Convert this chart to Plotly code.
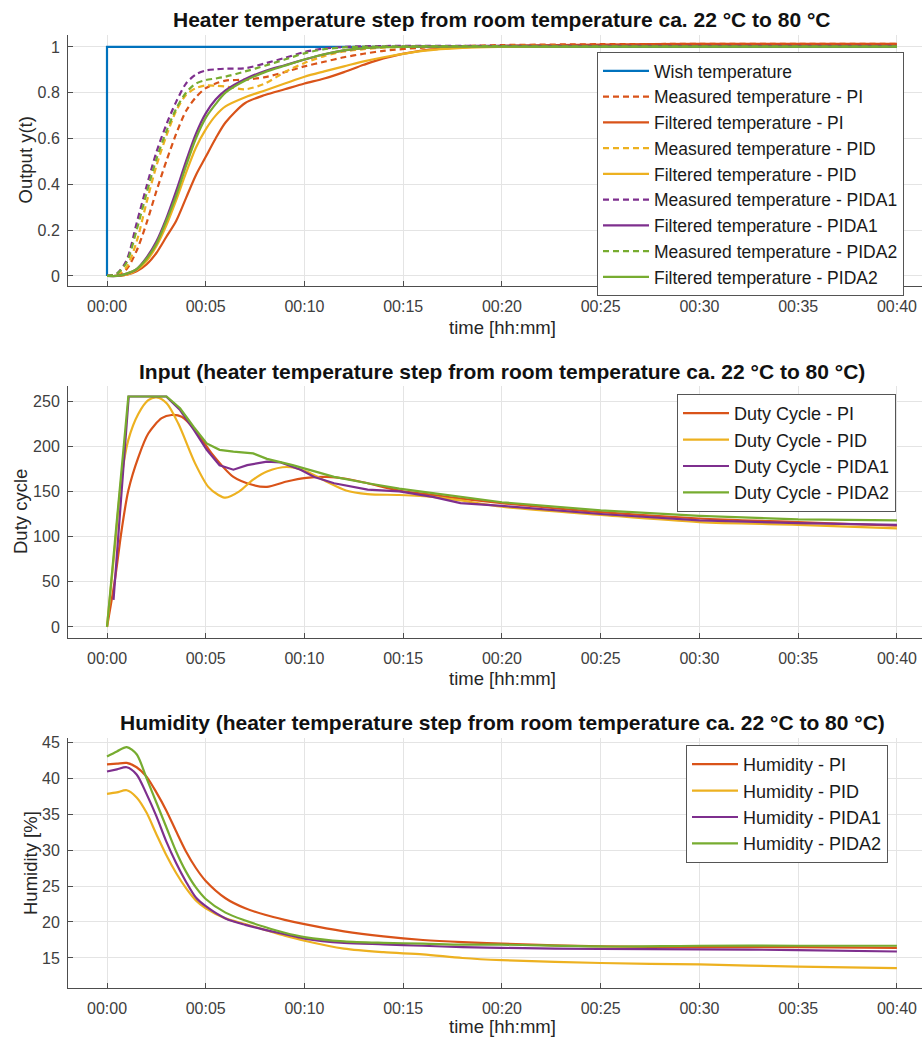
import plotly.graph_objects as go

# ---------------- Data (time in minutes) ----------------
TICK_MIN = [0, 5, 10, 15, 20, 25, 30, 35, 40]
TICK_TXT = ["00:00", "00:05", "00:10", "00:15", "00:20", "00:25", "00:30", "00:35", "00:40"]

# Top: normalised output y(t)
T_TOP = [0, 0.5, 1, 1.5, 2, 2.5, 3, 3.5, 4, 4.5, 5, 5.5, 6, 7, 8, 9, 10, 11, 12, 13, 14, 16, 18, 20, 25, 30, 35, 40]
WISH_T = [0, 0, 40]
WISH_Y = [0, 1, 1]
MEAS_PI = [0, 0.003, 0.03, 0.11, 0.23, 0.37, 0.5, 0.62, 0.72, 0.78, 0.82, 0.84, 0.853, 0.857, 0.868, 0.89,
           0.915, 0.935, 0.955, 0.97, 0.983, 0.997, 1.004, 1.008, 1.012, 1.013, 1.013, 1.013]
FILT_PI = [0, 0, 0.005, 0.02, 0.05, 0.1, 0.17, 0.24, 0.34, 0.44, 0.52, 0.6, 0.67, 0.755, 0.79, 0.815,
           0.84, 0.862, 0.89, 0.922, 0.95, 0.985, 0.998, 1.005, 1.01, 1.013, 1.013, 1.013]
MEAS_PID = [0, 0.005, 0.04, 0.15, 0.32, 0.48, 0.61, 0.72, 0.79, 0.82, 0.832, 0.83, 0.827, 0.815, 0.84, 0.89,
            0.93, 0.96, 0.98, 0.99, 0.997, 1.002, 1.003, 1.004, 1.004, 1.004, 1.004, 1.004]
FILT_PID = [0, 0, 0.005, 0.025, 0.065, 0.13, 0.22, 0.33, 0.45, 0.56, 0.64, 0.70, 0.74, 0.78, 0.81, 0.84,
            0.87, 0.893, 0.915, 0.937, 0.955, 0.983, 0.996, 1.0, 1.003, 1.003, 1.003, 1.003]
MEAS_PIDA1 = [0, 0.01, 0.07, 0.23, 0.39, 0.54, 0.66, 0.76, 0.84, 0.88, 0.897, 0.902, 0.905, 0.907, 0.928, 0.952,
              0.978, 0.993, 1.0, 1.003, 1.004, 1.005, 1.005, 1.005, 1.005, 1.005, 1.005, 1.005]
FILT_PIDA1 = [0, 0, 0.01, 0.03, 0.08, 0.15, 0.25, 0.37, 0.5, 0.62, 0.71, 0.77, 0.81, 0.86, 0.895, 0.92,
              0.945, 0.968, 0.985, 0.995, 1.0, 1.002, 1.003, 1.003, 1.003, 1.003, 1.003, 1.003]
MEAS_PIDA2 = [0, 0.01, 0.06, 0.2, 0.36, 0.51, 0.63, 0.73, 0.8, 0.84, 0.855, 0.862, 0.87, 0.893, 0.918, 0.945,
              0.972, 0.99, 0.998, 1.001, 1.002, 1.003, 1.003, 1.003, 1.002, 1.002, 1.002, 1.002]
FILT_PIDA2 = [0, 0, 0.01, 0.03, 0.075, 0.14, 0.24, 0.35, 0.48, 0.6, 0.69, 0.75, 0.80, 0.853, 0.89, 0.918,
              0.945, 0.968, 0.985, 0.995, 0.999, 1.001, 1.001, 1.001, 1.001, 1.001, 1.001, 1.001]

# Middle: duty cycle
T_DC_PI = [0, 0.4, 0.74, 1.08, 1.59, 2.09, 2.77, 3.27, 3.78, 4.46, 5.3, 6.4, 7.4, 8.1, 9.1, 10.1, 11.1, 12.1,
           13.2, 14.8, 16.5, 17.9, 20, 25, 30, 35, 40]
DC_PI = [0, 52, 107, 151, 188, 214, 231, 234.5, 232.6, 218, 192, 166, 157, 155, 161, 165, 166, 164,
         159, 151, 146, 142, 137, 127, 120, 116, 112]
T_DC_PID = [0, 0.4, 0.74, 1.08, 1.59, 2.09, 2.51, 3.02, 3.61, 4.46, 5.13, 5.64, 6.0, 6.7, 7.4, 8.1, 9.1, 10.1,
            11.1, 12.1, 13.2, 14.8, 16.5, 17.9, 20, 25, 30, 35, 40]
DC_PID = [0, 89, 166, 207, 236, 251, 254, 247.5, 225, 181, 155, 146, 143, 150, 163, 172, 177, 172,
          161, 151, 147, 146, 144, 140, 133, 124, 116, 113, 109]
T_DC_PIDA1 = [0.33, 1.1, 3.0, 3.7, 4.4, 5.05, 5.7, 6.4, 7.1, 8.1, 8.8, 9.8, 10.5, 11.5, 13.2, 14.8, 16.5, 17.9,
              20, 25, 30, 35, 40]
DC_PIDA1 = [30, 255, 255, 240, 218, 196, 179, 174, 179, 183, 182, 174, 166, 159, 152, 150, 144, 137,
            134, 125, 118, 115, 113]
T_DC_PIDA2 = [0, 1.08, 3.02, 3.7, 4.4, 5.05, 5.7, 6.4, 7.4, 8.1, 9.4, 10.5, 11.5, 13.2, 14.8, 16.5, 17.9,
              20, 25, 30, 35, 40]
DC_PIDA2 = [0, 255, 255, 242, 221, 203, 196, 194, 192, 186, 179, 172, 166, 159, 153, 148, 144,
            138, 129, 123, 119, 118]

# Bottom: humidity [%]
T_HUM = [0, 0.5, 1, 1.5, 2, 2.5, 3, 3.5, 4, 4.5, 5, 6, 7, 8, 9, 10, 12, 14, 16, 18, 20, 25, 30, 35, 40]
HUM_PI = [41.9, 42.0, 42.1, 41.5, 40.2, 38.0, 35.5, 32.6, 29.8, 27.5, 25.7, 23.3, 21.9, 21.0, 20.3, 19.7,
          18.7, 18.0, 17.5, 17.2, 17.0, 16.6, 16.5, 16.5, 16.4]
HUM_PID = [37.8, 38.0, 38.3, 37.3, 35.2, 32.2, 29.3, 26.8, 24.7, 23.0, 21.9, 20.5, 19.7, 18.9, 18.1, 17.4,
           16.3, 15.8, 15.5, 15.0, 14.7, 14.3, 14.1, 13.8, 13.6]
HUM_PIDA1 = [40.9, 41.2, 41.5, 40.5, 37.8, 34.7, 31.2, 28.2, 25.6, 23.4, 22.2, 20.5, 19.6, 18.9, 18.3, 17.7,
             17.1, 16.9, 16.7, 16.5, 16.4, 16.25, 16.2, 16.1, 15.9]
HUM_PIDA2 = [43.0, 43.7, 44.3, 43.3, 40.0, 36.6, 33.2, 29.8, 27.0, 24.8, 23.2, 21.3, 20.2, 19.3, 18.5, 17.9,
             17.3, 17.1, 17.0, 16.85, 16.85, 16.6, 16.7, 16.7, 16.7]

for arr in [MEAS_PI, FILT_PI, MEAS_PID, FILT_PID, MEAS_PIDA1, FILT_PIDA1, MEAS_PIDA2, FILT_PIDA2]:
    assert len(arr) == len(T_TOP)
assert len(DC_PI) == len(T_DC_PI) and len(DC_PID) == len(T_DC_PID)
assert len(DC_PIDA1) == len(T_DC_PIDA1) and len(DC_PIDA2) == len(T_DC_PIDA2)
for arr in [HUM_PI, HUM_PID, HUM_PIDA1, HUM_PIDA2]:
    assert len(arr) == len(T_HUM)

# ---------------- Style ----------------
BLUE, RED, YEL, PUR, GRN = "#0072BD", "#D95319", "#EDB120", "#7E2F8E", "#77AC30"
FONT = "Liberation Sans, Arial, Helvetica, sans-serif"
W, H = 922, 1038
LW = 2.2
DASH = "6px,4px"


def px_x(p):
    return p / W


def px_y(p):
    return 1 - p / H


fig = go.Figure()

# Top plot
fig.add_trace(go.Scatter(x=WISH_T, y=WISH_Y, mode="lines", name="Wish temperature",
                         line=dict(color=BLUE, width=LW), xaxis="x", yaxis="y", legend="legend"))
top_series = [
    ("Measured temperature - PI", MEAS_PI, RED, DASH),
    ("Filtered temperature - PI", FILT_PI, RED, "solid"),
    ("Measured temperature - PID", MEAS_PID, YEL, DASH),
    ("Filtered temperature - PID", FILT_PID, YEL, "solid"),
    ("Measured temperature - PIDA1", MEAS_PIDA1, PUR, DASH),
    ("Filtered temperature - PIDA1", FILT_PIDA1, PUR, "solid"),
    ("Measured temperature - PIDA2", MEAS_PIDA2, GRN, DASH),
    ("Filtered temperature - PIDA2", FILT_PIDA2, GRN, "solid"),
]
for name, vals, col, dash in top_series:
    fig.add_trace(go.Scatter(x=T_TOP, y=vals, mode="lines", name=name,
                             line=dict(color=col, width=LW, dash=dash, shape="spline", smoothing=0.8),
                             xaxis="x", yaxis="y", legend="legend"))

# Middle plot
mid_series = [
    ("Duty Cycle - PI", T_DC_PI, DC_PI, RED, "spline"),
    ("Duty Cycle - PID", T_DC_PID, DC_PID, YEL, "spline"),
    ("Duty Cycle - PIDA1", T_DC_PIDA1, DC_PIDA1, PUR, "linear"),
    ("Duty Cycle - PIDA2", T_DC_PIDA2, DC_PIDA2, GRN, "linear"),
]
for name, tt, vals, col, shape in mid_series:
    ln = dict(color=col, width=LW, shape=shape)
    if shape == "spline":
        ln["smoothing"] = 0.8
    fig.add_trace(go.Scatter(x=tt, y=vals, mode="lines", name=name, line=ln,
                             xaxis="x2", yaxis="y2", legend="legend2"))

# Bottom plot
bot_series = [
    ("Humidity - PI", HUM_PI, RED),
    ("Humidity - PID", HUM_PID, YEL),
    ("Humidity - PIDA1", HUM_PIDA1, PUR),
    ("Humidity - PIDA2", HUM_PIDA2, GRN),
]
for name, vals, col in bot_series:
    fig.add_trace(go.Scatter(x=T_HUM, y=vals, mode="lines", name=name,
                             line=dict(color=col, width=LW, shape="spline", smoothing=0.8),
                             xaxis="x3", yaxis="y3", legend="legend3"))

# ---------------- Axes ----------------
X_DOM = [px_x(68), 1.0]
X_RANGE = [-1.975, 41.27]
AX_COL = "#4d4d4d"
GRID = "#e4e4e4"
TICKFONT = dict(family=FONT, size=16, color="#404040")


def xaxis(anchor):
    return dict(domain=X_DOM, range=X_RANGE, anchor=anchor, tickvals=TICK_MIN, ticktext=TICK_TXT,
                showgrid=True, gridcolor=GRID, gridwidth=1, zeroline=False, showline=True,
                linecolor=AX_COL, linewidth=1, ticks="inside", ticklen=5, tickcolor=AX_COL,
                tickfont=TICKFONT, ticklabelstandoff=6, fixedrange=True, automargin=False)


def yaxis(anchor, dom, rng, tv, tt):
    return dict(domain=dom, range=rng, anchor=anchor, tickvals=tv, ticktext=tt,
                showgrid=True, gridcolor=GRID, gridwidth=1, zeroline=False, showline=True,
                linecolor=AX_COL, linewidth=1, ticks="inside", ticklen=5, tickcolor=AX_COL,
                tickfont=TICKFONT, ticklabelstandoff=4, fixedrange=True, automargin=False)


Y1_TV = [0, 0.2, 0.4, 0.6, 0.8, 1]
Y1_TT = ["0", "0.2", "0.4", "0.6", "0.8", "1"]
Y2_TV = [0, 50, 100, 150, 200, 250]
Y3_TV = [15, 20, 25, 30, 35, 40, 45]

fig.update_layout(
    width=W, height=H, margin=dict(l=0, r=0, t=0, b=0, autoexpand=False),
    paper_bgcolor="white", plot_bgcolor="white",
    font=dict(family=FONT, color="#262626"),
    xaxis=xaxis("y"),
    yaxis=yaxis("x", [px_y(286), px_y(35)], [-0.044, 1.052], Y1_TV, Y1_TT),
    xaxis2=xaxis("y2"),
    yaxis2=yaxis("x2", [px_y(638), px_y(386)], [-12.2, 266.6], Y2_TV, [str(v) for v in Y2_TV]),
    xaxis3=xaxis("y3"),
    yaxis3=yaxis("x3", [px_y(988), px_y(738)], [10.83, 45.56], Y3_TV, [str(v) for v in Y3_TV]),
    showlegend=True,
)

LEG = dict(bgcolor="white", bordercolor="#555555", borderwidth=1,
           font=dict(family=FONT, size=18, color="#1a1a1a"), xanchor="left", yanchor="top",
           itemwidth=46, tracegroupgap=0, itemclick=False, itemdoubleclick=False)
fig.update_layout(
    legend=dict(LEG, x=px_x(597), y=px_y(52), font=dict(family=FONT, size=17.5, color="#1a1a1a")),
    legend2=dict(LEG, x=px_x(677), y=px_y(394)),
    legend3=dict(LEG, x=px_x(686), y=px_y(745)),
)

# ---------------- Titles and labels ----------------
CX = px_x(502)
TITLE_F = dict(family=FONT, size=21, color="#111111")
LABEL_F = dict(family=FONT, size=18.5, color="#262626")
ann = []
titles = [
    ("<b>Heater temperature step from room temperature ca. 22 °C to 80 °C</b>", 20),
    ("<b>Input (heater temperature step from room temperature ca. 22 °C to 80 °C)</b>", 371),
    ("<b>Humidity (heater temperature step from room temperature ca. 22 °C to 80 °C)</b>", 722),
]
for txt, yy in titles:
    ann.append(dict(text=txt, x=CX, y=px_y(yy), xref="paper", yref="paper", showarrow=False,
                    xanchor="center", yanchor="middle", font=TITLE_F))
for yy in [327, 678, 1026]:
    ann.append(dict(text="time [hh:mm]", x=CX, y=px_y(yy), xref="paper", yref="paper", showarrow=False,
                    xanchor="center", yanchor="middle", font=LABEL_F))
ylabels = [("Output y(t)", 25, 160.5), ("Duty cycle", 20, 512), ("Humidity [%]", 30, 863)]
for txt, xx, yy in ylabels:
    ann.append(dict(text=txt, x=px_x(xx), y=px_y(yy), xref="paper", yref="paper", showarrow=False,
                    xanchor="center", yanchor="middle", textangle=-90, font=LABEL_F))
fig.update_layout(annotations=ann)

fig.write_html("out.html", config={"displayModeBar": False},
               post_script="document.body.style.margin='0';document.body.style.overflow='hidden';")
